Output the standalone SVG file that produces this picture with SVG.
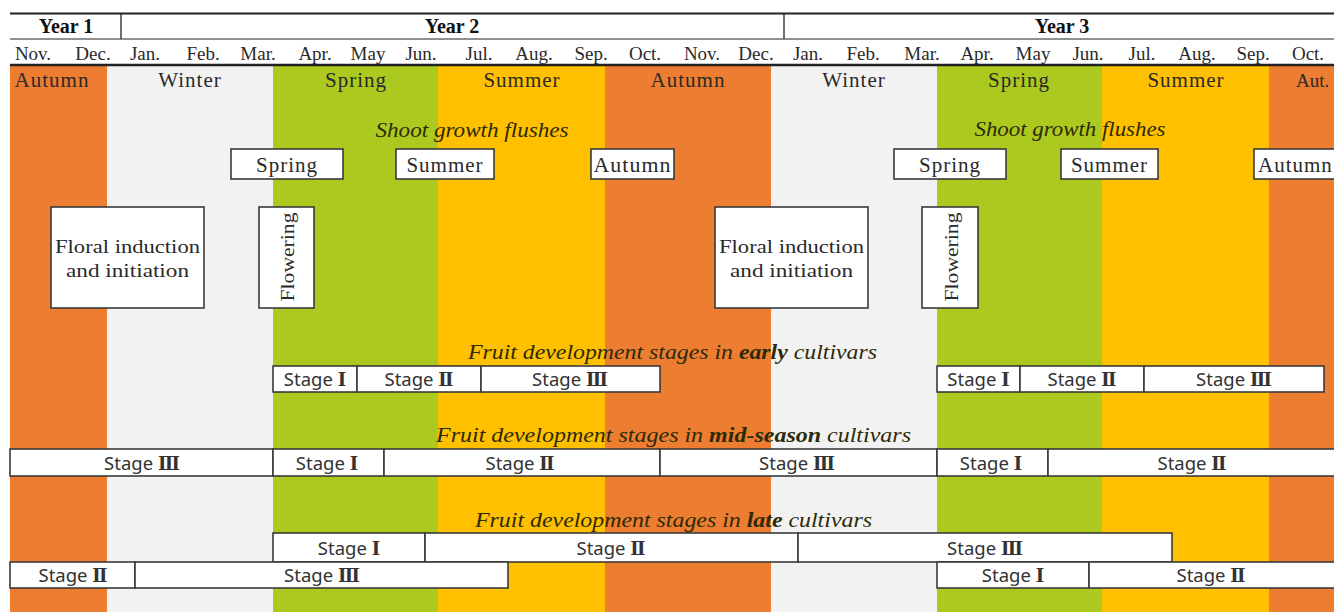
<svg xmlns="http://www.w3.org/2000/svg" width="1334" height="612" viewBox="0 0 1334 612">
<style>
.aut{fill:#ED7D31}.win{fill:#F2F2F2}.spr{fill:#ABC91F}.sum{fill:#FFC000}
.t{font-family:"Liberation Serif","DejaVu Serif",serif;font-size:19px;fill:#2a2a2a;text-anchor:middle}
.se{font-size:21px;letter-spacing:1px}
.yr{font-weight:bold;font-size:20px;fill:#111}
.it{font-style:italic;font-size:20px;fill:#2e2a08}
.box{fill:#fff;stroke:#3a3a3a;stroke-width:1.6}
.st{font-family:"Noto Sans","Open Sans",sans-serif;font-size:18.5px;fill:#333;text-anchor:middle}
.rn{font-family:"DejaVu Serif","Liberation Serif",serif;font-size:18px;font-weight:bold}
.hl{stroke:#222;fill:none}
</style>
<rect width="1334" height="612" fill="#fff"/>
<g id="seasons">
<rect class="aut" x="10" y="66" width="97" height="546"/>
<rect class="win" x="107" y="66" width="166" height="546"/>
<rect class="spr" x="273" y="66" width="165" height="546"/>
<rect class="sum" x="438" y="66" width="167" height="546"/>
<rect class="aut" x="605" y="66" width="166" height="546"/>
<rect class="win" x="771" y="66" width="166" height="546"/>
<rect class="spr" x="937" y="66" width="165" height="546"/>
<rect class="sum" x="1102" y="66" width="167" height="546"/>
<rect class="aut" x="1269" y="66" width="65" height="546"/>
<text class="t se" x="52" y="87">Autumn</text>
<text class="t se" x="190" y="87">Winter</text>
<text class="t se" x="356" y="87">Spring</text>
<text class="t se" x="522" y="87">Summer</text>
<text class="t se" x="688" y="87">Autumn</text>
<text class="t se" x="854" y="87">Winter</text>
<text class="t se" x="1019" y="87">Spring</text>
<text class="t se" x="1186" y="87">Summer</text>
<text class="t" font-size="20" x="1296" y="87" style="text-anchor:start">Aut.</text>
</g>
<g id="header">
<line class="hl" x1="10" y1="13.5" x2="1334" y2="13.5" stroke-width="2.2"/>
<line class="hl" x1="10" y1="39" x2="1334" y2="39" stroke-width="1.2"/>
<line class="hl" x1="10" y1="65" x2="1334" y2="65" stroke-width="2.4"/>
<line class="hl" x1="121" y1="13" x2="121" y2="39" stroke-width="1.3"/>
<line class="hl" x1="784" y1="13" x2="784" y2="39" stroke-width="1.3"/>
<text class="t yr" x="66" y="33">Year 1</text>
<text class="t yr" x="452" y="33">Year 2</text>
<text class="t yr" x="1062" y="33">Year 3</text>
<g class="months">
<text class="t" x="33" y="60">Nov.</text>
<text class="t" x="93" y="60">Dec.</text>
<text class="t" x="145" y="60">Jan.</text>
<text class="t" x="203" y="60">Feb.</text>
<text class="t" x="258" y="60">Mar.</text>
<text class="t" x="315" y="60">Apr.</text>
<text class="t" x="368" y="60">May</text>
<text class="t" x="421" y="60">Jun.</text>
<text class="t" x="479" y="60">Jul.</text>
<text class="t" x="534" y="60">Aug.</text>
<text class="t" x="591" y="60">Sep.</text>
<text class="t" x="645" y="60">Oct.</text>
<text class="t" x="702" y="60">Nov.</text>
<text class="t" x="756" y="60">Dec.</text>
<text class="t" x="808" y="60">Jan.</text>
<text class="t" x="863" y="60">Feb.</text>
<text class="t" x="922" y="60">Mar.</text>
<text class="t" x="977" y="60">Apr.</text>
<text class="t" x="1033" y="60">May</text>
<text class="t" x="1088" y="60">Jun.</text>
<text class="t" x="1142" y="60">Jul.</text>
<text class="t" x="1197" y="60">Aug.</text>
<text class="t" x="1253" y="60">Sep.</text>
<text class="t" x="1308" y="60">Oct.</text>
</g>
</g>
<g id="shoot-growth">
<text class="t it" x="472" y="137" textLength="193" lengthAdjust="spacingAndGlyphs">Shoot growth flushes</text>
<text class="t it" x="1070" y="136" textLength="191" lengthAdjust="spacingAndGlyphs">Shoot growth flushes</text>
<g id="flush-spring-y2"><rect class="box" x="231" y="149" width="112" height="30"/><text class="t se" x="287" y="172">Spring</text></g>
<g id="flush-summer-y2"><rect class="box" x="396" y="149" width="98" height="30"/><text class="t se" x="445" y="172">Summer</text></g>
<g id="flush-autumn-y2"><rect class="box" x="591" y="149" width="83" height="30"/><text class="t se" x="632.5" y="172" textLength="78" lengthAdjust="spacingAndGlyphs">Autumn</text></g>
<g id="flush-spring-y3"><rect class="box" x="894" y="149" width="112" height="30"/><text class="t se" x="950" y="172">Spring</text></g>
<g id="flush-summer-y3"><rect class="box" x="1061" y="149" width="97" height="30"/><text class="t se" x="1109.5" y="172">Summer</text></g>
<g id="flush-autumn-y3"><rect class="box" x="1254" y="149" width="90" height="30"/><text class="t se" x="1258" y="172" style="text-anchor:start">Autumn</text></g>
</g>
<g id="floral-y2"><rect class="box" x="51" y="207" width="153" height="101"/>
<text class="t" x="127.5" y="253" font-size="20" textLength="145" lengthAdjust="spacingAndGlyphs">Floral induction</text>
<text class="t" x="127.5" y="277" font-size="20" textLength="123" lengthAdjust="spacingAndGlyphs">and initiation</text></g>
<g id="floral-y3"><rect class="box" x="715" y="207" width="153" height="101"/>
<text class="t" x="791.5" y="253" font-size="20" textLength="145" lengthAdjust="spacingAndGlyphs">Floral induction</text>
<text class="t" x="791.5" y="277" font-size="20" textLength="123" lengthAdjust="spacingAndGlyphs">and initiation</text></g>
<g id="flowering-y2"><rect class="box" x="259" y="207" width="55" height="101"/>
<text class="t" font-size="20" transform="translate(294 257) rotate(-90)" x="0" y="0" textLength="89" lengthAdjust="spacingAndGlyphs">Flowering</text></g>
<g id="flowering-y3"><rect class="box" x="922" y="207" width="56" height="101"/>
<text class="t" font-size="20" transform="translate(958 257) rotate(-90)" x="0" y="0" textLength="89" lengthAdjust="spacingAndGlyphs">Flowering</text></g>
<g id="early">
<text class="t it" x="672.5" y="359" textLength="409" lengthAdjust="spacingAndGlyphs">Fruit development stages in <tspan font-weight="bold">early</tspan> cultivars</text>
<g id="e1"><rect class="box" x="273" y="366" width="84" height="26"/><text class="st" x="315" y="386">Stage <tspan class="rn">Ⅰ</tspan></text></g>
<g id="e2"><rect class="box" x="357" y="366" width="124" height="26"/><text class="st" x="419" y="386">Stage <tspan class="rn">Ⅱ</tspan></text></g>
<g id="e3"><rect class="box" x="481" y="366" width="179" height="26"/><text class="st" x="570" y="386">Stage <tspan class="rn">Ⅲ</tspan></text></g>
<g id="e4"><rect class="box" x="937" y="366" width="83" height="26"/><text class="st" x="978.5" y="386">Stage <tspan class="rn">Ⅰ</tspan></text></g>
<g id="e5"><rect class="box" x="1020" y="366" width="124" height="26"/><text class="st" x="1082" y="386">Stage <tspan class="rn">Ⅱ</tspan></text></g>
<g id="e6"><rect class="box" x="1144" y="366" width="180" height="26"/><text class="st" x="1234" y="386">Stage <tspan class="rn">Ⅲ</tspan></text></g>
</g>
<g id="mid">
<text class="t it" x="673.5" y="442" textLength="475" lengthAdjust="spacingAndGlyphs">Fruit development stages in <tspan font-weight="bold">mid-season</tspan> cultivars</text>
<g id="m1"><rect class="box" x="10" y="449" width="263" height="27"/><text class="st" x="142" y="470">Stage <tspan class="rn">Ⅲ</tspan></text></g>
<g id="m2"><rect class="box" x="273" y="449" width="111" height="27"/><text class="st" x="327" y="470">Stage <tspan class="rn">Ⅰ</tspan></text></g>
<g id="m3"><rect class="box" x="384" y="449" width="276" height="27"/><text class="st" x="520" y="470">Stage <tspan class="rn">Ⅱ</tspan></text></g>
<g id="m4"><rect class="box" x="660" y="449" width="277" height="27"/><text class="st" x="797" y="470">Stage <tspan class="rn">Ⅲ</tspan></text></g>
<g id="m5"><rect class="box" x="937" y="449" width="111" height="27"/><text class="st" x="991" y="470">Stage <tspan class="rn">Ⅰ</tspan></text></g>
<g id="m6"><rect class="box" x="1048" y="449" width="290" height="27"/><text class="st" x="1192" y="470">Stage <tspan class="rn">Ⅱ</tspan></text></g>
</g>
<g id="late">
<text class="t it" x="673.5" y="527" textLength="397" lengthAdjust="spacingAndGlyphs">Fruit development stages in <tspan font-weight="bold">late</tspan> cultivars</text>
<g id="l1"><rect class="box" x="273" y="533" width="152" height="29"/><text class="st" x="349" y="555">Stage <tspan class="rn">Ⅰ</tspan></text></g>
<g id="l2"><rect class="box" x="425" y="533" width="373" height="29"/><text class="st" x="611" y="555">Stage <tspan class="rn">Ⅱ</tspan></text></g>
<g id="l3"><rect class="box" x="798" y="533" width="374" height="29"/><text class="st" x="985" y="555">Stage <tspan class="rn">Ⅲ</tspan></text></g>
<g id="l4"><rect class="box" x="10" y="562" width="125" height="26"/><text class="st" x="73" y="582">Stage <tspan class="rn">Ⅱ</tspan></text></g>
<g id="l5"><rect class="box" x="135" y="562" width="373" height="26"/><text class="st" x="322" y="582">Stage <tspan class="rn">Ⅲ</tspan></text></g>
<g id="l6"><rect class="box" x="937" y="562" width="152" height="26"/><text class="st" x="1013" y="582">Stage <tspan class="rn">Ⅰ</tspan></text></g>
<g id="l7"><rect class="box" x="1089" y="562" width="250" height="26"/><text class="st" x="1211" y="582">Stage <tspan class="rn">Ⅱ</tspan></text></g>
</g>
</svg>
